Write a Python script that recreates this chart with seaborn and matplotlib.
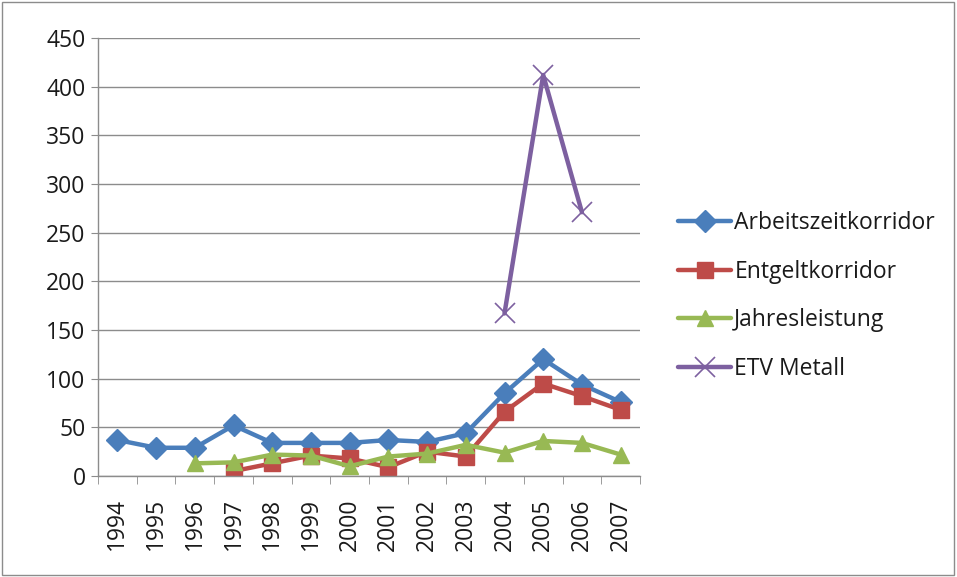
import numpy as np
import pandas as pd
import matplotlib
matplotlib.use("Agg")
import matplotlib.pyplot as plt
import seaborn as sns

years = ["1994", "1995", "1996", "1997", "1998", "1999", "2000",
         "2001", "2002", "2003", "2004", "2005", "2006", "2007"]
arbeitszeit = [37, 29, 29, 52, 34, 34, 34, 37, 35, 44, 85, 120, 94, 76]
entgelt = [np.nan, np.nan, np.nan, 5, 13, 21, 18, 9, 25, 20, 66, 95, 82, 68]
jahres = [np.nan, np.nan, 13, 14, 22, 21, 10, 20, 23, 32, 24, 36, 34, 22]
etv = [np.nan] * 10 + [167, 412, 271, np.nan]
series_names = ["Arbeitszeitkorridor", "Entgeltkorridor", "Jahresleistung", "ETV Metall"]

sns.set_style("white")
plt.rcParams["font.family"] = ["Open Sans", "DejaVu Sans"]

rows = []
for name, vals in zip(series_names, [arbeitszeit, entgelt, jahres, etv]):
    for i, v in enumerate(vals):
        if not np.isnan(v):
            rows.append({"pos": i, "value": v, "series": name})
df = pd.DataFrame(rows)

colors = {"Arbeitszeitkorridor": "#4a7ebb", "Entgeltkorridor": "#be4b48",
          "Jahresleistung": "#98b954", "ETV Metall": "#7d60a0"}
markers = {"Arbeitszeitkorridor": "D", "Entgeltkorridor": "s",
           "Jahresleistung": "^", "ETV Metall": "x"}
sizes_m = {"Arbeitszeitkorridor": 11, "Entgeltkorridor": 12,
           "Jahresleistung": 12, "ETV Metall": 14}

fig = plt.figure(figsize=(9.57, 5.77), dpi=100)
ax = fig.add_axes([98 / 957, 1 - 476 / 577, (640 - 98) / 957, (476 - 38) / 577])

for name in series_names:
    sub = df[df.series == name]
    sns.lineplot(data=sub, x="pos", y="value", ax=ax, color=colors[name],
                 marker=markers[name], markersize=sizes_m[name], linewidth=3.2,
                 markeredgecolor=colors[name], markeredgewidth=1 if name != "ETV Metall" else 1.2,
                 label=name, sort=False)

ax.set_xlim(-0.5, 13.5)
ax.set_ylim(0, 450)
ax.set_yticks(range(0, 451, 50))
ax.set_xticks(range(len(years)))
ax.set_xticklabels(years, rotation=90, fontsize=16.5, color="#1a1a1a")
ax.tick_params(axis="y", labelsize=16.5, length=5, color="#8c8c8c", direction="out",
               left=True, labelcolor="#1a1a1a", pad=4)
ax.tick_params(axis="x", length=0, pad=16)
ax.set_xlabel("")
ax.set_ylabel("")
ax.grid(axis="y", color="#8c8c8c", linewidth=1)
ax.set_axisbelow(True)
for s in ["top", "right"]:
    ax.spines[s].set_visible(False)
for s in ["left", "bottom"]:
    ax.spines[s].set_color("#8c8c8c")
    ax.spines[s].set_linewidth(1)
# category separator ticks on x axis
ax.set_xticks(np.arange(-0.5, 14, 1), minor=True)
ax.tick_params(axis="x", which="minor", length=6, color="#8c8c8c", bottom=True)

leg = ax.legend(loc="center left", bbox_to_anchor=(669 / 957, 1 - 296 / 577),
                bbox_transform=fig.transFigure, frameon=False, fontsize=16.5,
                handlelength=2.3, labelspacing=1.08, handletextpad=0.15,
                borderaxespad=0)
for t in leg.get_texts():
    t.set_color("#1a1a1a")

border = plt.Rectangle((0.002, 0.004), 0.995, 0.992, transform=fig.transFigure,
                       fill=False, edgecolor="#8c8c8c", linewidth=1)
fig.patches.append(border)

fig.savefig("out.png", dpi=100)
